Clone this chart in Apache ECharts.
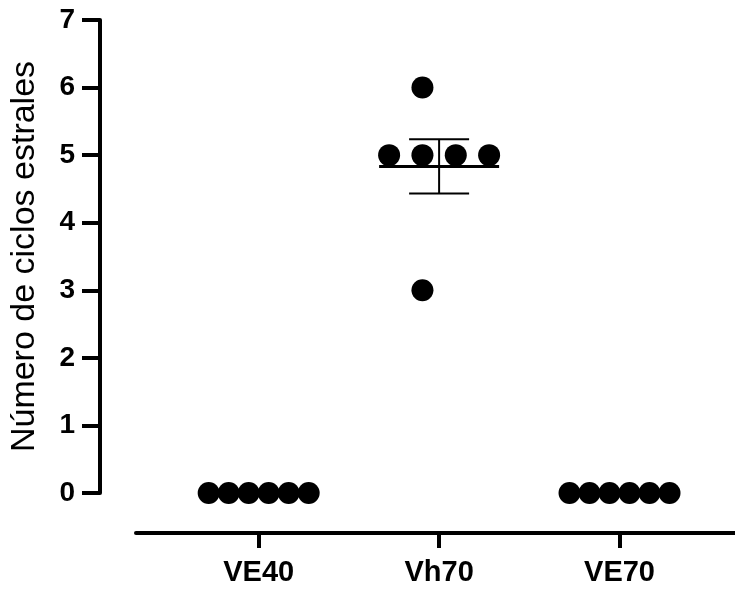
<!DOCTYPE html>
<html>
<head>
<meta charset="utf-8">
<script src="https://cdn.jsdelivr.net/npm/echarts@6/dist/echarts.min.js"></script>
<style>
html,body{margin:0;padding:0;background:#fff;}
#chart{width:735px;height:590px;}
</style>
</head>
<body>
<div id="chart"></div>
<script>
// ---- data ----
const categories = ['VE40', 'Vh70', 'VE70'];
const valuesVE40 = [0, 0, 0, 0, 0, 0];
const valuesVh70 = [6, 5, 5, 5, 5, 3];
const valuesVE70 = [0, 0, 0, 0, 0, 0];
const yTickValues = [0, 1, 2, 3, 4, 5, 6, 7];
const yTitle = 'Número de ciclos estrales';

const groups = [valuesVE40, valuesVh70, valuesVE70];

// ---- styling / layout ----
const FONT = '"Liberation Sans", Arial, sans-serif';
const SPREAD = 100;      // px across which the widest row of dots is spread
const DOT = 22;
const MEAN_HALF = 60;
const CAP_HALF = 30;

function stats(arr) {
  const n = arr.length;
  const m = arr.reduce((a, b) => a + b, 0) / n;
  const v = arr.reduce((a, b) => a + (b - m) * (b - m), 0) / (n - 1);
  return { mean: m, sem: Math.sqrt(v) / Math.sqrt(n) };
}

// column-based swarm layout (GraphPad-like)
const scatterData = [];
groups.forEach((vals, gi) => {
  const counts = {};
  vals.forEach(v => { counts[v] = (counts[v] || 0) + 1; });
  const nmax = Math.max(...Object.values(counts));
  const gap = nmax > 1 ? SPREAD / (nmax - 1) : 0;
  const used = {};
  vals.forEach(v => {
    const k = counts[v];
    const start = Math.floor((nmax - k) / 2);
    const idx = used[v] || 0;
    used[v] = idx + 1;
    const col = start + idx;
    const off = (col - (nmax - 1) / 2) * gap;
    scatterData.push({ value: [gi + 1, v], symbolOffset: [off, 0] });
  });
});

const statData = groups.map((vals, gi) => {
  const s = stats(vals);
  return [gi + 1, s.mean, s.sem];
});

const chart = echarts.init(document.getElementById('chart'), null, { renderer: 'canvas' });
chart.setOption({
  animation: false,
  backgroundColor: '#fff',
  grid: { left: 134, right: 0, top: 20, bottom: 97 },
  xAxis: {
    type: 'value',
    min: 0.32,
    max: 3.64,
    offset: 40,
    splitLine: { show: false },
    axisLine: { show: true, onZero: false, lineStyle: { color: '#000', width: 4 } },
    axisTick: { show: true, customValues: [1, 2, 3], length: 15, lineStyle: { color: '#000', width: 4 } },
    axisLabel: {
      customValues: [1, 2, 3],
      formatter: v => categories[Math.round(v) - 1],
      color: '#000', fontFamily: FONT, fontWeight: 'bold', fontSize: 29, margin: 25
    }
  },
  yAxis: {
    type: 'value',
    min: yTickValues[0],
    max: yTickValues[yTickValues.length - 1],
    interval: 1,
    offset: 36,
    name: yTitle,
    nameLocation: 'middle',
    nameGap: 58,
    nameRotate: 90,
    nameTextStyle: { color: '#000', fontFamily: FONT, fontSize: 34, fontWeight: 500 },
    splitLine: { show: false },
    axisLine: { show: true, onZero: false, lineStyle: { color: '#000', width: 4 } },
    axisTick: { show: true, length: 18, lineStyle: { color: '#000', width: 4 } },
    axisLabel: { color: '#000', fontFamily: FONT, fontWeight: 'bold', fontSize: 28, margin: 25 }
  },
  series: [
    {
      type: 'custom',
      z: 1,
      data: statData,
      renderItem: function (params, api) {
        const x = api.value(0), m = api.value(1), s = api.value(2);
        const c = api.coord([x, m]);
        const top = api.coord([x, m + s]);
        const bot = api.coord([x, m - s]);
        const children = [
          { type: 'line', shape: { x1: c[0] - MEAN_HALF, y1: c[1], x2: c[0] + MEAN_HALF, y2: c[1] },
            style: { stroke: '#000', lineWidth: 3 } }
        ];
        if (s > 0) {
          children.push(
            { type: 'line', shape: { x1: c[0], y1: top[1], x2: c[0], y2: bot[1] }, style: { stroke: '#000', lineWidth: 2 } },
            { type: 'line', shape: { x1: c[0] - CAP_HALF, y1: top[1], x2: c[0] + CAP_HALF, y2: top[1] }, style: { stroke: '#000', lineWidth: 2 } },
            { type: 'line', shape: { x1: c[0] - CAP_HALF, y1: bot[1], x2: c[0] + CAP_HALF, y2: bot[1] }, style: { stroke: '#000', lineWidth: 2 } }
          );
        }
        return { type: 'group', children: children };
      }
    },
    {
      type: 'scatter',
      z: 2,
      symbol: 'circle',
      symbolSize: DOT,
      itemStyle: { color: '#000', opacity: 1 },
      data: scatterData
    }
  ]
});
</script>
</body>
</html>
